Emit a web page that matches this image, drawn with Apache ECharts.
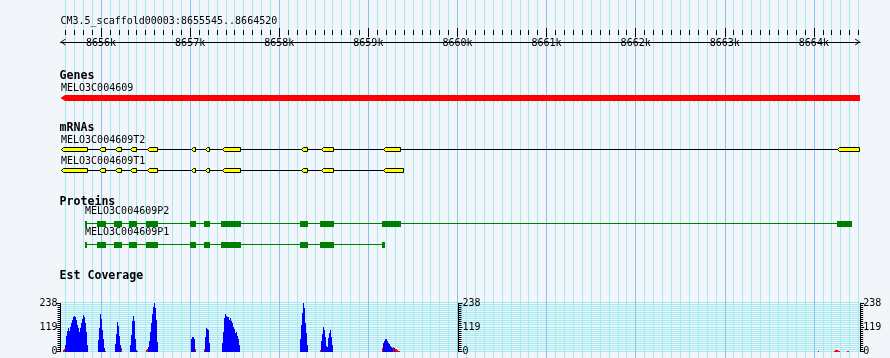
<!DOCTYPE html>
<html><head><meta charset="utf-8">
<script src="https://cdn.jsdelivr.net/npm/echarts@6/dist/echarts.min.js"></script>
<style>html,body{margin:0;padding:0;background:#f2f5fa}#c{width:890px;height:358px}</style>
</head><body><div id="c"></div><script>
// ---------------- data ----------------
const refName = 'CM3.5_scaffold00003';
const viewStart = 8655545;
const viewEnd = 8664520;

const trackTitles = ['Genes', 'mRNAs', 'Proteins', 'Est Coverage'];

const geneNames = ['MELO3C004609'];
const geneSpans = [[8655545, 8664520]];

const mrnaNames = ['MELO3C004609T2', 'MELO3C004609T1'];
const mrnaT2Exons = [[8655548,8655851],[8655978,8656053],[8656157,8656232],[8656325,8656401],[8656520,8656636],[8657010,8657063],[8657167,8657223],[8657355,8657568],[8658241,8658320],[8658469,8658612],[8659162,8659367],[8664260,8664520]];
const mrnaT1Exons = [[8655548,8655851],[8655978,8656053],[8656157,8656232],[8656325,8656401],[8656520,8656636],[8657010,8657063],[8657167,8657223],[8657355,8657568],[8658241,8658320],[8658469,8658612],[8659162,8659401]];

const proteinNames = ['MELO3C004609P2', 'MELO3C004609P1'];
const proteinP2Cds = [[8655820,8655846],[8655955,8656056],[8656146,8656236],[8656314,8656401],[8656502,8656636],[8656999,8657066],[8657156,8657223],[8657347,8657572],[8658233,8658320],[8658458,8658615],[8659154,8659367],[8664260,8664428]];
const proteinP1Cds = [[8655820,8655846],[8655955,8656056],[8656146,8656236],[8656314,8656401],[8656502,8656636],[8656999,8657066],[8657156,8657223],[8657347,8657572],[8658233,8658320],[8658458,8658615],[8659154,8659187]];

const covMax = 238;
const covTickStep = 119;
const covStripeCount = 24;
const covBinBp = 11.22;
const covBlueStarts = [8655595, 8655966, 8656156, 8656325, 8656527, 8657009, 8657166, 8657357, 8658232, 8658468, 8659164];
const covBlueValues = [
  [33, 77, 102, 115, 102, 123, 139, 156, 172, 176, 172, 156, 131, 115, 98, 115, 139, 159, 180, 169, 139, 98, 33],
  [57, 115, 185, 160, 105, 60, 20],
  [40, 85, 144, 128, 75, 33],
  [33, 80, 150, 176, 150, 60, 10],
  [25, 55, 95, 140, 185, 220, 238, 215, 155, 50],
  [61, 72, 72, 62],
  [74, 115, 112, 107, 44],
  [41, 98, 164, 184, 177, 172, 169, 156, 164, 153, 139, 123, 110, 90, 98, 77, 61, 33],
  [61, 131, 192, 238, 213, 139, 90, 33],
  [52, 85, 123, 107, 74, 28, 21, 66, 93, 107, 74, 33],
  [41, 54, 62, 61, 54, 44, 38, 30, 25, 18, 0, 16]
];
const covRedStarts = [8655573, 8656044, 8656224, 8656403, 8656504, 8657054, 8657155, 8658457, 8659153, 8659276, 8659298, 8664046, 8664226, 8664372];
const covRedValues = [
  [6, 12], [4], [18], [4], [10, 14], [12], [13], [8], [20], [21], [11, 11, 8, 5, 3], [3], [3, 6, 8, 8, 5, 3], [3, 3]
];

// ---------------- layout ----------------
const W = 890;
const X0 = 60.5, X1 = 860.2;
const K = (X1 - X0) / (viewEnd - viewStart);
const px = bp => X0 + (bp - viewStart) * K;
const MONO = '"DejaVu Sans Mono", monospace';
const FONT = '10px ' + MONO;
const BOLD = 'bold 11.6px ' + MONO;
const MINOR_C = '#a3ebf0';
const MAJOR_C = '#86c6ec';
const COV_TOP = 303.3, COV_H = 48.4;

const chart = echarts.init(document.getElementById('c'), null, {renderer: 'canvas'});

function txt(text, x, y, font) {
  return {type: 'text', x: x, y: y, silent: true, z: 50,
    style: {text: text, font: font || FONT, fill: '#000', verticalAlign: 'middle', textAlign: 'left'}};
}

const hiddenX = (grid, min, max) => ({gridIndex: grid, type: 'value', min, max, show: false});
const hiddenY = (grid) => ({gridIndex: grid, type: 'value', min: 0, max: 1, show: false});

function renderTranscript(exonSets, rowCy) {
  return function (params, api) {
    const i = params.dataIndex;
    const exons = exonSets[i];
    const cy = rowCy[i];
    const kids = [];
    const xs = api.coord([exons[0][0], 0])[0];
    const xe = api.coord([exons[exons.length - 1][1], 0])[0];
    kids.push({type: 'line', shape: {x1: Math.round(xs), y1: cy, x2: Math.round(xe), y2: cy},
      style: {stroke: '#000', lineWidth: 1}});
    exons.forEach(function (ex) {
      const a = Math.round(api.coord([ex[0], 0])[0]) + 0.5;
      const b = Math.max(a + 2, Math.round(api.coord([ex[1], 0])[0]) - 0.5);
      const tip = Math.min(2, (b - a) / 2);
      kids.push({type: 'polygon', shape: {points: [[a, cy], [a + tip, cy - 2], [b, cy - 2], [b, cy + 2], [a + tip, cy + 2]]},
        style: {fill: '#ffff00', stroke: '#000', lineWidth: 1}});
    });
    kids.push({type: 'text', x: Math.round(xs), y: cy - 9.3,
      style: {text: mrnaNames[i], font: FONT, fill: '#000', verticalAlign: 'middle'}});
    return {type: 'group', children: kids};
  };
}

function renderProtein(cdsSets, rowTop) {
  return function (params, api) {
    const i = params.dataIndex;
    const cds = cdsSets[i];
    const top = rowTop[i];
    const kids = [];
    const xs = Math.round(api.coord([cds[0][0], 0])[0]);
    const xe = Math.round(api.coord([cds[cds.length - 1][1], 0])[0]);
    kids.push({type: 'rect', shape: {x: xs, y: top + 2, width: xe - xs, height: 1}, style: {fill: '#008000'}});
    cds.forEach(function (c) {
      const a = Math.round(api.coord([c[0], 0])[0]);
      const b = Math.max(a + 2, Math.round(api.coord([c[1], 0])[0]));
      kids.push({type: 'rect', shape: {x: a, y: top, width: b - a, height: 6}, style: {fill: '#008000'}});
    });
    kids.push({type: 'text', x: xs, y: top - 10,
      style: {text: proteinNames[i], font: FONT, fill: '#000', verticalAlign: 'middle'}});
    return {type: 'group', children: kids};
  };
}

function renderCov(color) {
  return function (params, api) {
    const x = api.value(0), v = api.value(1);
    const p0 = api.coord([x, v]);
    const p1 = api.coord([x + covBinBp, 0]);
    const xl = Math.round(p0[0]);
    const xr = Math.max(xl + 1, Math.round(p1[0]));
    const yb = Math.round(p1[1]);
    const yt = Math.min(yb - 1, Math.round(p0[1]));
    return {type: 'rect', shape: {x: xl, y: yt, width: xr - xl, height: yb - yt}, style: {fill: color}};
  };
}

// crisp horizontal background stripes of the coverage panel, placed by the y axis scale
function renderStripes(params, api) {
  const kids = [];
  const xl = Math.round(api.coord([viewStart, 0])[0]);
  const xr = Math.round(api.coord([viewEnd, 0])[0]);
  for (let k = 0; k <= covStripeCount; k++) {
    const y = Math.round(api.coord([viewStart, k * covMax / covStripeCount])[1]);
    kids.push({type: 'rect', shape: {x: xl, y: y - 1, width: xr - xl, height: 1}, style: {fill: MINOR_C}});
  }
  return {type: 'group', children: kids};
}

function flattenCov(starts, values) {
  const out = [];
  starts.forEach(function (s, i) {
    values[i].forEach(function (v, j) { if (v > 0) out.push([s + j * covBinBp, v]); });
  });
  return out;
}

const covAxisCommon = {
  type: 'value', min: 0, max: covMax, interval: covTickStep, z: 10,
  axisLine: {show: true, lineStyle: {color: '#000', width: 1}},
  axisTick: {show: true, length: 4, lineStyle: {color: '#000'}},
  minorTick: {show: true, splitNumber: 12, length: 3, lineStyle: {color: '#000'}},
  axisLabel: {show: true, color: '#000', fontFamily: MONO, fontSize: 10, margin: 3},
  splitLine: {show: false}, minorSplitLine: {show: false}
};

const option = {
  animation: false,
  backgroundColor: '#f2f5fa',
  grid: [
    {left: X0, right: W - X1, top: 0, bottom: 0},                                  // 0 tracks
    {left: px(8655600), right: W - px(8664500), top: 0, bottom: 0},                // 1 minor grid lines
    {left: px(8656000), right: W - px(8664000), top: 0, bottom: 0},                // 2 major grid lines
    {left: X0, right: W - X1, top: 32, height: 10},                                // 3 ruler line
    {left: px(8655600), right: W - px(8664500), top: 25, height: 10},              // 4 ruler minor ticks
    {left: px(8656000), right: W - px(8664000), top: 27, height: 10},              // 5 ruler major ticks
    {left: X0, right: W - X1, top: COV_TOP, height: COV_H},                        // 6 coverage
    {left: 458.5, width: 20, top: COV_TOP, height: COV_H}                          // 7 middle scale
  ],
  xAxis: [
    hiddenX(0, viewStart, viewEnd),
    {gridIndex: 1, type: 'value', min: 8655600, max: 8664500, interval: 100, z: 2,
      axisLine: {show: false}, axisTick: {show: false}, axisLabel: {show: false},
      splitLine: {show: true, lineStyle: {color: MINOR_C, width: 1}}},
    {gridIndex: 2, type: 'value', min: 8656000, max: 8664000, interval: 1000, z: 2,
      axisLine: {show: false}, axisTick: {show: false}, axisLabel: {show: false},
      splitLine: {show: true, lineStyle: {color: MAJOR_C, width: 1}}},
    {gridIndex: 3, type: 'value', min: viewStart, max: viewEnd, position: 'top', z: 10,
      axisLine: {show: true, lineStyle: {color: '#000', width: 1},
        symbol: ['path://M0,5L3.5,0L7,5L6,5L3.5,1.4L1,5Z', 'path://M0,5L3.5,0L7,5L6,5L3.5,1.4L1,5Z'],
        symbolSize: [7, 5], symbolOffset: [2.5, -2.5]},
      axisTick: {show: false}, axisLabel: {show: false}, splitLine: {show: false}},
    {gridIndex: 4, type: 'value', min: 8655600, max: 8664500, interval: 100, position: 'bottom', z: 10,
      axisLine: {show: false}, axisTick: {show: true, inside: true, length: 5, lineStyle: {color: '#000'}},
      axisLabel: {show: false}, splitLine: {show: false}},
    {gridIndex: 5, type: 'value', min: 8656000, max: 8664000, interval: 1000, position: 'bottom', z: 10,
      axisLine: {show: false}, axisTick: {show: true, inside: true, length: 9, lineStyle: {color: '#000'}},
      axisLabel: {show: true, color: '#000', fontFamily: MONO, fontSize: 10, margin: 1,
        formatter: v => (v / 1000) + 'k'},
      splitLine: {show: false}},
    hiddenX(6, viewStart, viewEnd),
    hiddenX(7, 0, 1)
  ],
  yAxis: [
    hiddenY(0), hiddenY(1), hiddenY(2), hiddenY(3), hiddenY(4), hiddenY(5),
    Object.assign({}, covAxisCommon, {gridIndex: 6, position: 'left'}),
    Object.assign({}, covAxisCommon, {gridIndex: 6, position: 'right'}),
    Object.assign({}, covAxisCommon, {gridIndex: 7, position: 'left',
      axisTick: {show: true, inside: true, length: 4, lineStyle: {color: '#000'}},
      minorTick: {show: true, splitNumber: 12, length: 3, lineStyle: {color: '#000'}},
      axisLabel: {show: true, inside: true, color: '#000', fontFamily: MONO, fontSize: 10, margin: 4}})
  ],
  graphic: {elements: [
    txt(refName + ':' + viewStart + '..' + viewEnd, 60.5, 21.3),
    txt(trackTitles[0], 59.5, 75.8, BOLD),
    txt(trackTitles[1], 59.5, 127.8, BOLD),
    txt(trackTitles[2], 59.5, 201.8, BOLD),
    txt(trackTitles[3], 59.5, 275.5, BOLD)
  ]},
  series: [
    { // coverage panel stripes
      type: 'custom', xAxisIndex: 6, yAxisIndex: 6, clip: false, z: 1, silent: true,
      data: [[viewStart, 0]],
      renderItem: renderStripes
    },
    { // gene
      type: 'custom', xAxisIndex: 0, yAxisIndex: 0, clip: false, z: 5,
      data: geneSpans.map((s, i) => [s[0], s[1], i]),
      renderItem: function (params, api) {
        const a = Math.round(api.coord([api.value(0), 0])[0]);
        const b = Math.round(api.coord([api.value(1), 0])[0]);
        const top = 95, bot = 101, cy = 98;
        return {type: 'group', children: [
          {type: 'polygon', shape: {points: [[a - 0.5, cy], [a + 4, top], [b, top], [b, bot], [a + 4, bot]]},
            style: {fill: '#ff0000'}},
          {type: 'text', x: a, y: 88, style: {text: geneNames[params.dataIndex], font: FONT, fill: '#000', verticalAlign: 'middle'}}
        ]};
      }
    },
    { // mRNAs
      type: 'custom', xAxisIndex: 0, yAxisIndex: 0, clip: false, z: 5,
      data: [mrnaT2Exons, mrnaT1Exons].map((e, i) => [e[0][0], e[e.length - 1][1], i]),
      renderItem: renderTranscript([mrnaT2Exons, mrnaT1Exons], [149.5, 170.5])
    },
    { // proteins
      type: 'custom', xAxisIndex: 0, yAxisIndex: 0, clip: false, z: 5,
      data: [proteinP2Cds, proteinP1Cds].map((e, i) => [e[0][0], e[e.length - 1][1], i]),
      renderItem: renderProtein([proteinP2Cds, proteinP1Cds], [221, 242])
    },
    { // coverage blue
      type: 'custom', xAxisIndex: 6, yAxisIndex: 6, clip: false, z: 5,
      data: flattenCov(covBlueStarts, covBlueValues),
      renderItem: renderCov('#0000ff')
    },
    { // coverage red
      type: 'custom', xAxisIndex: 6, yAxisIndex: 6, clip: false, z: 6,
      data: flattenCov(covRedStarts, covRedValues),
      renderItem: renderCov('#ff0000')
    }
  ]
};
chart.setOption(option);
</script></body></html>
